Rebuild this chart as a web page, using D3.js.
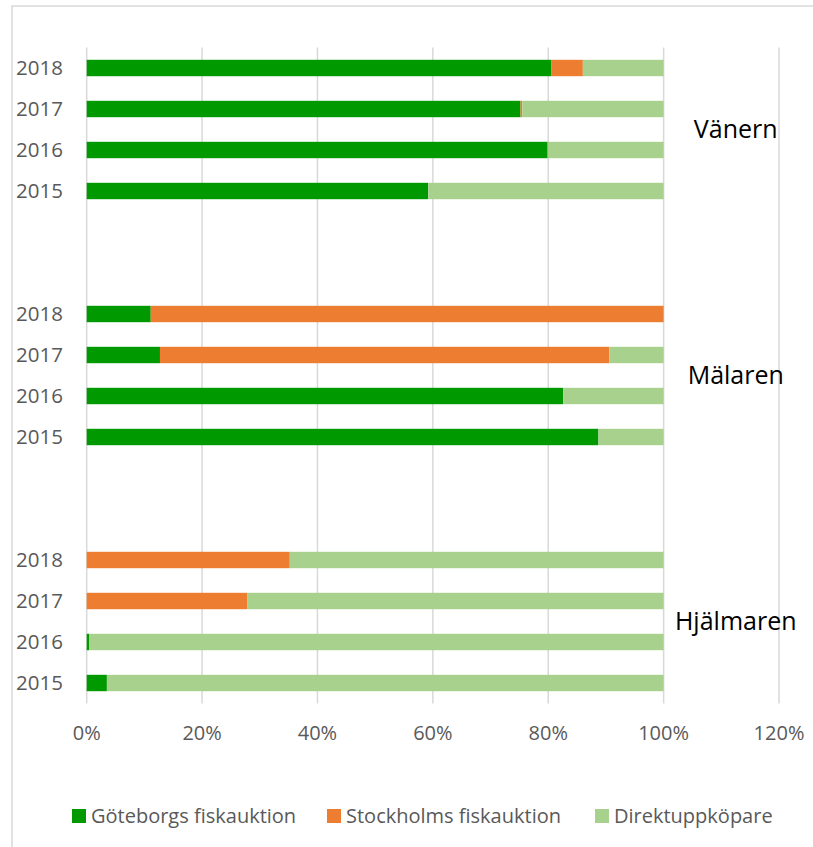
<!DOCTYPE html>
<html><head><meta charset="utf-8">
<script src="https://cdn.jsdelivr.net/npm/d3@7"></script>
<style>body{margin:0;background:#fff}svg{display:block}text{font-family:"Open Sans",sans-serif}</style>
</head><body>
<script>
const lakes = ["Vänern","Mälaren","Hjälmaren"];
const years = ["2018","2017","2016","2015"];
const seriesNames = ["Göteborgs fiskauktion","Stockholms fiskauktion","Direktuppköpare"];
const seriesColors = ["#009900","#ED7D31","#A9D18E"];
// values per lake, in year order 2018, 2017, 2016, 2015 (%)
const goteborg  = [80.5, 75.2, 79.9, 59.2,   11.1, 12.7, 82.6, 88.7,   0.0, 0.0, 0.4, 3.5];
const stockholm = [ 5.5,  0.3,  0.0,  0.0,   88.9, 77.9,  0.0,  0.0,  35.2, 27.8, 0.0, 0.0];
const direkt    = [14.0, 24.5, 20.1, 40.8,    0.0,  9.4, 17.4, 11.3,  64.8, 72.2, 99.6, 96.5];
const xTicks = [0,20,40,60,80,100,120];

const W = 813, H = 847;
const svg = d3.select("body").append("svg").attr("width",W).attr("height",H);

// chart frame (cropped on right/bottom)
svg.append("rect").attr("x",12).attr("y",6).attr("width",W+20).attr("height",H+20)
  .attr("fill","none").attr("stroke","#d9d9d9").attr("stroke-width",1.5);

// rows: each lake's 4 years, with 2 empty slots between groups
const rows = [];
const slots = [];
lakes.forEach((lake,li)=>{
  years.forEach((yr,yi)=>{
    const i = li*years.length + yi;
    const key = lake+"|"+yr;
    rows.push({key, lake, year:yr, vals:[goteborg[i], stockholm[i], direkt[i]]});
    slots.push(key);
  });
  if (li < lakes.length-1){ slots.push("gap"+li+"a"); slots.push("gap"+li+"b"); }
});

const x = d3.scaleLinear().domain([0,120]).range([86.7, 779]);
const y = d3.scaleBand().domain(slots).range([47.5, 703.5]).paddingInner(0.6).paddingOuter(0.3);

// gridlines
svg.append("g").selectAll("line").data(xTicks).join("line")
  .attr("x1",d=>x(d)).attr("x2",d=>x(d)).attr("y1",47.5).attr("y2",703.5)
  .attr("stroke","#d9d9d9").attr("stroke-width",1.5);

// stacked bars
const stackData = rows.map(r=>({key:r.key, g:r.vals[0], s:r.vals[1], d:r.vals[2]}));
const stack = d3.stack().keys(["g","s","d"])(stackData);
svg.append("g").selectAll("g").data(stack).join("g")
  .attr("fill",(d,i)=>seriesColors[i])
  .selectAll("rect").data(d=>d).join("rect")
  .attr("x",d=>x(d[0])).attr("width",d=>Math.max(0,x(d[1])-x(d[0])))
  .attr("y",d=>y(d.data.key)).attr("height",y.bandwidth());

// year labels
svg.append("g").selectAll("text").data(rows).join("text")
  .attr("x",63).attr("y",d=>y(d.key)+y.bandwidth()/2).attr("dy","0.35em")
  .attr("text-anchor","end").attr("font-size",20.5).attr("fill","#595959")
  .text(d=>d.year);

// x tick labels
svg.append("g").selectAll("text").data(xTicks).join("text")
  .attr("x",d=>x(d)).attr("y",740).attr("text-anchor","middle")
  .attr("font-size",20).attr("fill","#595959").text(d=>d+"%");

// lake labels
svg.append("g").selectAll("text").data(lakes).join("text")
  .attr("x",x(112.5)).attr("text-anchor","middle")
  .attr("y",(d,li)=>{const a=y(d+"|"+years[1]), b=y(d+"|"+years[2]); return (a+b)/2+y.bandwidth()/2;})
  .attr("dy","0.35em").attr("font-size",25).attr("fill","#000").text(d=>d);

// legend
const legX = [72, 327, 595];
const leg = svg.append("g").selectAll("g").data(seriesNames).join("g")
  .attr("transform",(d,i)=>`translate(${legX[i]},809)`);
leg.append("rect").attr("width",14).attr("height",14).attr("fill",(d,i)=>seriesColors[i]);
leg.append("text").attr("x",19).attr("y",14).attr("font-size",20).attr("fill","#595959").text(d=>d);
</script>
</body></html>
